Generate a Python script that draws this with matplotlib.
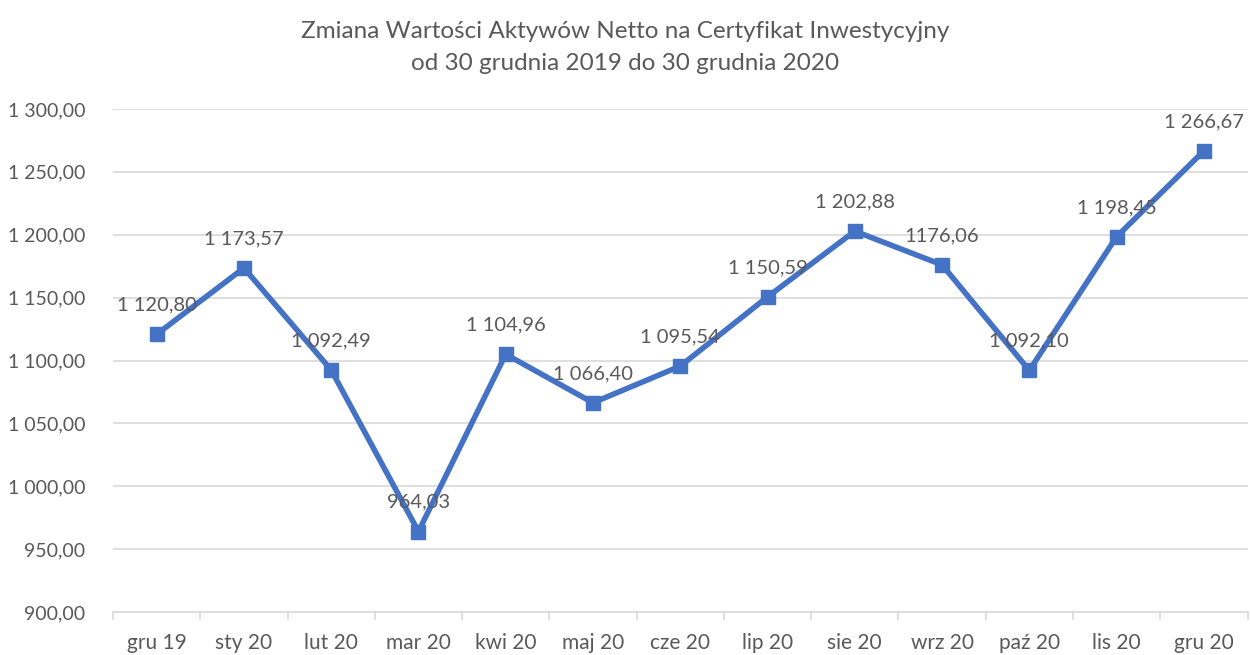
import matplotlib
matplotlib.use('Agg')
import numpy as np
import matplotlib.pyplot as plt
from matplotlib.ticker import FuncFormatter, FixedLocator

months = ['gru 19', 'sty 20', 'lut 20', 'mar 20', 'kwi 20', 'maj 20', 'cze 20',
          'lip 20', 'sie 20', 'wrz 20', 'paź 20', 'lis 20', 'gru 20']
values = [1120.80, 1173.57, 1092.49, 964.03, 1104.96, 1066.40, 1095.54,
          1150.59, 1202.88, 1176.06, 1092.10, 1198.45, 1266.67]
labels = ['1 120,80', '1 173,57', '1 092,49', '964,03', '1 104,96', '1 066,40', '1 095,54',
          '1 150,59', '1 202,88', '1176,06', '1 092,10', '1 198,45', '1 266,67']

plt.rcParams['font.family'] = ['Lato', 'DejaVu Sans']
txt = '#595959'

fig = plt.figure(figsize=(12.5, 6.55), dpi=100)
ax = fig.add_axes([0.0904, 0.0656, 0.9076, 0.768])

x = np.arange(len(months))
ax.plot(x, values, c='#4472C4', lw=4, marker='s', ms=10.5, zorder=3)
for xi, v, l in zip(x, values, labels):
    ax.annotate(l, (xi, v), xytext=(0, 21), textcoords='offset points',
                ha='center', va='center', fontsize=14.5, color=txt, zorder=4)

ax.set_xlim(-0.5, len(months) - 0.5)
ax.set_ylim(900, 1300)
ax.set_yticks(np.arange(900, 1301, 50))
ax.yaxis.set_major_formatter(FuncFormatter(
    lambda v, p: ('{:,.2f}'.format(v)).replace(',', ' ').replace('.', ',')))
ax.set_xticks(x)
ax.set_xticklabels(months)
ax.xaxis.set_minor_locator(FixedLocator(np.arange(-0.5, len(months), 1)))

ax.grid(axis='y', color='#D9D9D9', lw=1.2, zorder=0)
for s in ['top', 'right', 'left']:
    ax.spines[s].set_visible(False)
ax.spines['bottom'].set_color('#D9D9D9')
ax.spines['bottom'].set_linewidth(1.2)
ax.tick_params(axis='y', length=0, pad=20, labelsize=14, labelcolor=txt)
ax.tick_params(axis='x', which='major', length=0, pad=15, labelsize=15, labelcolor=txt)
ax.tick_params(axis='x', which='minor', length=6, width=1.2, color='#D9D9D9')

fig.text(0.5, 0.952, 'Zmiana Wartości Aktywów Netto na Certyfikat Inwestycyjny',
         ha='center', va='center', fontsize=17.5, color=txt)
fig.text(0.5, 0.903, 'od 30 grudnia 2019 do 30 grudnia 2020',
         ha='center', va='center', fontsize=17.5, color=txt)

fig.savefig('out.png', dpi=100)
